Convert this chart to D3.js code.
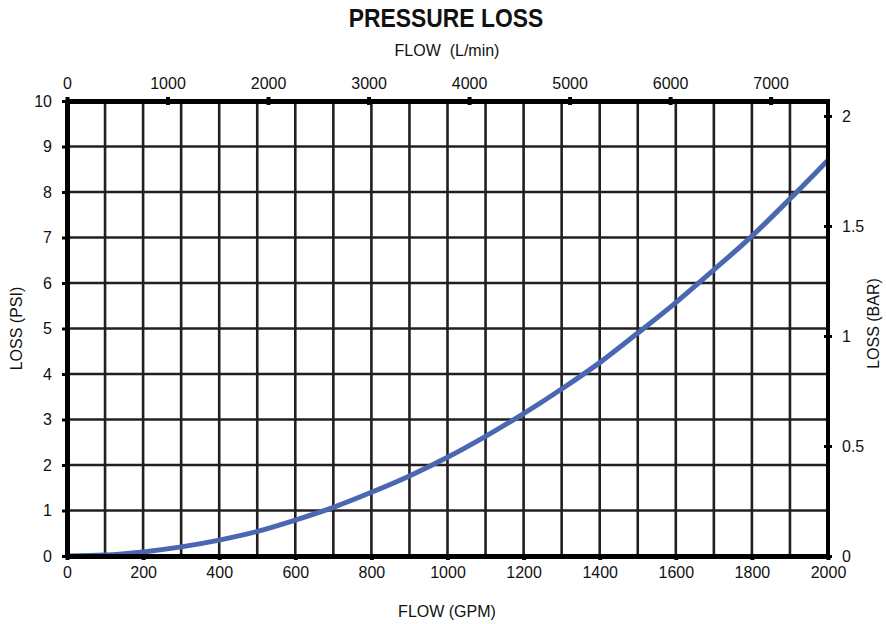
<!DOCTYPE html>
<html>
<head>
<meta charset="utf-8">
<script src="https://cdn.jsdelivr.net/npm/d3@7"></script>
<style>
  body { margin: 0; background: #fff; }
  text { font-family: "Liberation Sans", Arial, sans-serif; fill: #111; }
</style>
</head>
<body>
<script>
// flow in GPM and loss in PSI
const flowGpm = [0, 100, 200, 300, 400, 500, 600, 700, 800, 900, 1000, 1100, 1200, 1300, 1400, 1500, 1600, 1700, 1800, 1900, 2000]
const lossPsi = [0, 0.02, 0.09, 0.2, 0.35, 0.54, 0.79, 1.07, 1.4, 1.76, 2.17, 2.63, 3.13, 3.67, 4.25, 4.9, 5.57, 6.29, 7.03, 7.85, 8.7]

const gpmTicks = [0, 200, 400, 600, 800, 1000, 1200, 1400, 1600, 1800, 2000]
const lpmTicks = [0, 1000, 2000, 3000, 4000, 5000, 6000, 7000]
const psiTicks = [0, 1, 2, 3, 4, 5, 6, 7, 8, 9, 10]
const barTicks = [0, 0.5, 1, 1.5, 2]

const layout = { width: 886, height: 624, left: 67, right: 828, top: 101, bottom: 556 }
const lineColor = '#4a67b1'
const gridColor = '#231f20'

const x = d3.scaleLinear().domain([0, 2000]).range([layout.left, layout.right])
const xTop = d3.scaleLinear().domain([0, 2000 * 3.7854]).range([layout.left, layout.right])
const y = d3.scaleLinear().domain([0, 10]).range([layout.bottom, layout.top])
const yRight = d3.scaleLinear().domain([0, 2.068]).range([layout.bottom, layout.top])

const svg = d3.select('body').append('svg')
    .attr('width', layout.width)
    .attr('height', layout.height)

// grid
svg.append('g').selectAll('line')
    .data(d3.range(100, 2000, 100))
    .enter().append('line')
    .attr('x1', d => x(d)).attr('x2', d => x(d))
    .attr('y1', layout.top).attr('y2', layout.bottom)
    .attr('stroke', gridColor).attr('stroke-width', 2.6)

svg.append('g').selectAll('line')
    .data(psiTicks.slice(1, -1))
    .enter().append('line')
    .attr('x1', layout.left).attr('x2', layout.right)
    .attr('y1', d => y(d)).attr('y2', d => y(d))
    .attr('stroke', gridColor).attr('stroke-width', 2.6)

// curve
const line = d3.line()
    .x((d, i) => x(flowGpm[i]))
    .y(d => y(d))
    .curve(d3.curveMonotoneX)

svg.append('path')
    .datum(lossPsi)
    .attr('d', line)
    .attr('fill', 'none')
    .attr('stroke', lineColor)
    .attr('stroke-width', 5)

// axes
const styleAxis = (g, lw) => {
    g.select('.domain').attr('stroke', '#000').attr('stroke-width', lw)
    g.selectAll('.tick line').attr('stroke', '#000').attr('stroke-width', 4)
    g.selectAll('.tick text').style('font-size', '16px').attr('fill', '#111')
}

svg.append('g')
    .attr('transform', `translate(0,${layout.bottom})`)
    .call(d3.axisBottom(x).tickValues(gpmTicks).tickFormat(d3.format('d')).tickSize(4).tickPadding(7).tickSizeOuter(0))
    .call(g => styleAxis(g, 5))

svg.append('g')
    .attr('transform', `translate(0,${layout.top})`)
    .call(d3.axisTop(xTop).tickValues(lpmTicks).tickFormat(d3.format('d')).tickSize(4).tickPadding(8).tickSizeOuter(0))
    .call(g => styleAxis(g, 5))
    .call(g => g.selectAll('.tick line').attr('y2', -4).attr('y1', 4))

svg.append('g')
    .attr('transform', `translate(${layout.left},0)`)
    .call(d3.axisLeft(y).tickValues(psiTicks).tickFormat(d3.format('d')).tickSize(5).tickPadding(10).tickSizeOuter(0))
    .call(g => styleAxis(g, 5))
    .call(g => g.selectAll('.tick line').attr('stroke-width', 3))

svg.append('g')
    .attr('transform', `translate(${layout.right},0)`)
    .call(d3.axisRight(yRight).tickValues(barTicks).tickFormat(d3.format('')).tickSize(4).tickPadding(10).tickSizeOuter(0))
    .call(g => styleAxis(g, 4))
    .call(g => g.select('.domain').attr('d', `M0,${layout.top - 2}V${layout.bottom + 2}`))
    .call(g => g.selectAll('.tick line').attr('x1', -4).attr('x2', 4).attr('stroke-width', 3))

// titles
svg.append('text')
    .attr('transform', 'translate(446,27) scale(0.88,1)')
    .attr('text-anchor', 'middle')
    .style('font-size', '26px').style('font-weight', 'bold')
    .text('PRESSURE LOSS')

svg.append('text')
    .attr('x', 447).attr('y', 56)
    .attr('text-anchor', 'middle')
    .style('font-size', '16px')
    .style('white-space', 'pre')
    .text('FLOW  (L/min)')

svg.append('text')
    .attr('x', 447).attr('y', 617)
    .attr('text-anchor', 'middle')
    .style('font-size', '16px')
    .text('FLOW (GPM)')

svg.append('text')
    .attr('transform', `translate(22,${(layout.top + layout.bottom) / 2}) rotate(-90)`)
    .attr('text-anchor', 'middle')
    .style('font-size', '16px')
    .text('LOSS (PSI)')

svg.append('text')
    .attr('transform', `translate(879,${(layout.top + layout.bottom) / 2 - 5}) rotate(-90)`)
    .attr('text-anchor', 'middle')
    .style('font-size', '16px')
    .text('LOSS (BAR)')
</script>
</body>
</html>
